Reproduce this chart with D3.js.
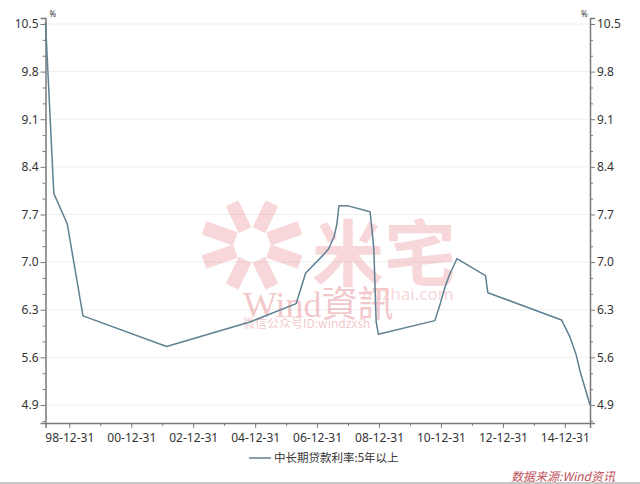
<!DOCTYPE html>
<html><head><meta charset="utf-8">
<script src="https://cdn.jsdelivr.net/npm/d3@7"></script>
<style>body{margin:0;background:#fff}svg{display:block}</style>
</head><body>
<svg id="c" width="640" height="484"></svg>
<script>
const dates = ["1998-03-25","1998-07-01","1998-12-07","1999-06-10","2002-02-21","2004-10-29","2006-04-28","2006-08-19","2007-03-18","2007-05-19","2007-07-21","2007-08-22","2007-09-15","2007-12-21","2008-09-16","2008-10-09","2008-10-30","2008-11-27","2008-12-23","2010-10-20","2010-12-26","2011-02-09","2011-04-06","2011-07-07","2012-06-08","2012-07-06","2014-11-22","2015-03-01","2015-05-11","2015-06-28","2015-08-26","2015-10-24"];
const rates = [10.53,8.01,7.56,6.21,5.76,6.12,6.39,6.84,7.11,7.20,7.38,7.56,7.83,7.83,7.74,7.47,7.20,6.12,5.94,6.14,6.40,6.60,6.80,7.05,6.80,6.55,6.15,5.90,5.65,5.40,5.15,4.90];
const yTicks = [4.9,5.6,6.3,7.0,7.7,8.4,9.1,9.8,10.5];
const xTickDates = ["1998-12-31","2000-12-31","2002-12-31","2004-12-31","2006-12-31","2008-12-31","2010-12-31","2012-12-31","2014-12-31"];
const xMinorDates = ["1999-12-31","2001-12-31","2003-12-31","2005-12-31","2007-12-31","2009-12-31","2011-12-31","2013-12-31"];
const seriesName = "中长期贷款利率:5年以上";
const sourceText = "数据来源:Wind资讯";

const parse = d3.timeParse("%Y-%m-%d");
const data = dates.map((d,i)=>({d:parse(d), v:rates[i]}));
const svg = d3.select("#c");
const L=45.5, R=590, T=18, B=423;
const x = d3.scaleTime().domain([parse(dates[0]), parse(dates[dates.length-1])]).range([L,R]);
const y = d3.scaleLinear().domain([4.635,10.588]).range([B,T]);
const font = "'Noto Sans','Noto Sans CJK SC',sans-serif";
const axisCol = "#7a7a7a";

// grid
svg.append("g").selectAll("line").data(yTicks).join("line")
  .attr("x1",L).attr("x2",R).attr("y1",d=>y(d)).attr("y2",d=>y(d))
  .attr("stroke","#efefef").attr("stroke-width",1);

// watermark
const wm = svg.append("g").attr("opacity",0.32);
const cx=252, cy=245;
for(let k=0;k<8;k++){
  const a = k*Math.PI/4 + Math.PI/8;
  wm.append("line").attr("x1",cx+Math.cos(a)*18).attr("y1",cy+Math.sin(a)*16)
    .attr("x2",cx+Math.cos(a)*52).attr("y2",cy+Math.sin(a)*45)
    .attr("stroke","#e8868a").attr("stroke-width",14).attr("stroke-linecap","butt");
}
wm.append("text").attr("x",312).attr("y",280).attr("font-size",72).attr("font-weight","bold")
  .attr("font-family","'Noto Sans CJK SC'").attr("fill","#e8868a").text("米宅");
wm.append("text").attr("x",362).attr("y",300).attr("font-size",17)
  .attr("font-family",font).attr("fill","#e8868a").text("mizhai.com");
const wt = wm.append("text").attr("x",243).attr("y",317).attr("font-size",36).attr("fill","#d9575f");
wt.append("tspan").attr("font-family","'Liberation Serif',serif").text("Wind");
wt.append("tspan").attr("font-family","'Noto Sans CJK TC'").text("資訊");
wm.append("text").attr("x",243).attr("y",328).attr("font-size",12)
  .attr("font-family","'Noto Sans CJK SC'").attr("fill","#d9575f").text("微信公众号ID:windzxsh");

// minor y ticks
const yMinor = [];
for(let i=0;i<yTicks.length;i++){ for(const f of [-2,-1,1,2]){ const v=+(yTicks[i]+f*0.7/3).toFixed(4); if(v>4.64&&v<10.58&&!yMinor.some(m=>Math.abs(m-v)<1e-3)) yMinor.push(v);} }

// axes
const gl = svg.append("g").attr("transform",`translate(${L},0)`)
  .call(d3.axisLeft(y).tickValues(yTicks).tickFormat(d3.format(".1f")).tickSize(5).tickPadding(2));
const gr = svg.append("g").attr("transform",`translate(${R},0)`)
  .call(d3.axisRight(y).tickValues(yTicks).tickFormat(d3.format(".1f")).tickSize(5).tickPadding(2));
const gb = svg.append("g").attr("transform",`translate(0,${B})`)
  .call(d3.axisBottom(x).tickValues(xTickDates.map(parse)).tickFormat(d3.timeFormat("%y-%m-%d")).tickSize(5).tickPadding(5));
[gl,gr,gb].forEach(g=>{
  g.select(".domain").attr("stroke",axisCol).attr("stroke-width",1.5);
  g.selectAll(".tick line").attr("stroke",axisCol);
  g.selectAll("text").attr("fill","#333").attr("font-size",12).attr("font-family",font);
});
// minor ticks
svg.append("g").attr("transform",`translate(${L},0)`).call(d3.axisLeft(y).tickValues(yMinor).tickSize(3).tickFormat(""))
  .call(g=>{g.select(".domain").remove();g.selectAll("line").attr("stroke",axisCol);});
svg.append("g").attr("transform",`translate(${R},0)`).call(d3.axisRight(y).tickValues(yMinor).tickSize(3).tickFormat(""))
  .call(g=>{g.select(".domain").remove();g.selectAll("line").attr("stroke",axisCol);});
svg.append("g").attr("transform",`translate(0,${B})`).call(d3.axisBottom(x).tickValues(xMinorDates.map(parse)).tickSize(3).tickFormat(""))
  .call(g=>{g.select(".domain").remove();g.selectAll("line").attr("stroke",axisCol);});

// percent labels
svg.append("text").attr("x",L+4).attr("y",17).attr("font-size",8).attr("font-family",font).attr("fill","#333").text("%");
svg.append("text").attr("x",R-9).attr("y",17).attr("font-size",8).attr("font-family",font).attr("fill","#333").text("%");

// line
svg.append("path").datum(data)
  .attr("d",d3.line().x(d=>x(d.d)).y(d=>y(d.v)))
  .attr("fill","none").attr("stroke","#5f8093").attr("stroke-width",1.5).attr("stroke-linejoin","round");

// legend
svg.append("line").attr("x1",249).attr("x2",271).attr("y1",458).attr("y2",458).attr("stroke","#5f8093").attr("stroke-width",1.5);
svg.append("text").attr("x",274).attr("y",462).attr("font-size",11.5).attr("font-family","'Noto Sans CJK SC'").attr("fill","#333").text(seriesName);

// source
svg.append("text").attr("x",615).attr("y",481).attr("text-anchor","end").attr("font-size",12).attr("font-style","italic")
  .attr("font-family","'Noto Sans CJK SC'").attr("fill","#c0505a").text(sourceText);
svg.append("rect").attr("x",0).attr("y",482).attr("width",640).attr("height",2).attr("fill","#c8c8c8");
</script>
</body></html>
